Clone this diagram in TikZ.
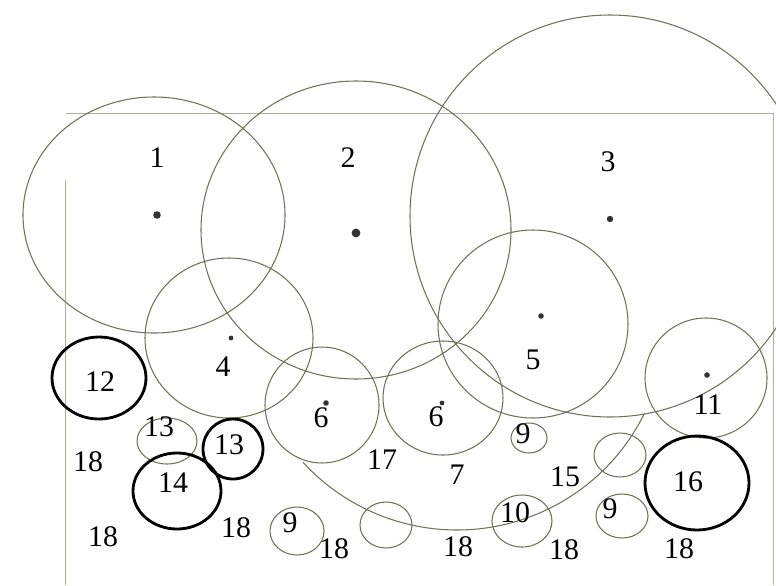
\documentclass[tikz,border=0pt]{standalone}
\usepackage{fontspec}
\setmainfont{Liberation Serif}
\usepackage{tikz}
\usetikzlibrary{positioning}
\definecolor{pencilgray}{RGB}{115,112,88}
\definecolor{framegray}{RGB}{175,172,155}

\begin{document}
\begin{tikzpicture}[
    x=0.2mm, y=0.2mm,
    pencil/.style={draw=pencilgray, line width=0.6pt},
    frame/.style={draw=framegray, line width=0.5pt},
    ink/.style={draw=black, line width=1.6pt},
    lbl/.style={font=\fontsize{17}{20}\selectfont, inner sep=0pt},
    centre/.style={fill=black!80, draw=none}
]
\useasboundingbox (0,0) rectangle (776,-585);
\clip (0,0) rectangle (776,-585);
% frame of the plot
\draw[frame] (66,-113) -- (773,-113);
\draw[frame] (65,-180) -- (65,-585);
\draw[frame] (773,-113) -- (773,-585);
% large circles
\draw[pencil] (154,-215) ellipse [x radius=131, y radius=118];
\draw[pencil] (356,-230) ellipse [x radius=155, y radius=149];
\draw[pencil] (610,-216) ellipse [x radius=200, y radius=201];
\draw[pencil] (229,-338) ellipse [x radius=84, y radius=80];
\draw[pencil] (533,-324) ellipse [x radius=95, y radius=94];
\draw[pencil] (322,-405) ellipse [x radius=57, y radius=58];
\draw[pencil] (443,-398) ellipse [x radius=60, y radius=57];
\draw[pencil] (706,-378) ellipse [x radius=61, y radius=60];
% lower arc
\draw[pencil] (457,-321) ++(222.5:209) arc (222.5:333.7:209);
% small circles
\draw[pencil] (167,-441) ellipse [x radius=30, y radius=23];
\draw[pencil] (297,-531) ellipse [x radius=27, y radius=24];
\draw[pencil] (386,-525) ellipse [x radius=26, y radius=23];
\draw[pencil] (522,-521) ellipse [x radius=30, y radius=26];
\draw[pencil] (529,-438) ellipse [x radius=18, y radius=15];
\draw[pencil] (620,-455) ellipse [x radius=26, y radius=22];
\draw[pencil] (622,-516) ellipse [x radius=26, y radius=22];
% marked circles
\draw[ink] (99,-378) ellipse [x radius=47, y radius=41];
\draw[ink] (233,-449) ellipse [x radius=30, y radius=30];
\draw[ink] (177,-491) ellipse [x radius=44, y radius=38];
\draw[ink] (697,-483) ellipse [x radius=52, y radius=47];
% centre dots
\fill[centre] (157,-215) circle (3.8);
\fill[centre] (356,-233) circle (4.4);
\fill[centre] (610,-219) circle (3.2);
\fill[centre] (231,-338) circle (2.4);
\fill[centre] (541,-316) circle (2.8);
\fill[centre] (326,-403) circle (2.8);
\fill[centre] (442,-403) circle (2.4);
\fill[centre] (707,-375) circle (2.8);
% labels
\node[lbl] (l1) at (157,-158) {1};
\node[lbl] (l2) at (348,-158) {2};
\node[lbl] (l3) at (608,-162) {3};
\node[lbl] (l4) at (223,-367) {4};
\node[lbl] (l5) at (533,-360) {5};
\node[lbl] (l6a) at (321,-418) {6};
\node[lbl] (l6b) at (436,-417) {6};
\node[lbl] (l9a) at (523,-434) {9};
\node[lbl] (l11) at (708,-405) {11};
\node[lbl] (l12) at (100,-382) {12};
\node[lbl] (l13a) at (159,-427) {13};
\node[lbl] (l13b) at (229,-445) {13};
\node[lbl] (l14) at (173,-483) {14};
\node[lbl] (l17) at (382,-460) {17};
\node[lbl] (l7) at (457,-475) {7};
\node[lbl] (l15) at (565,-477) {15};
\node[lbl] (l16) at (688,-482) {16};
\node[lbl] (l10) at (515,-513) {10};
\node[lbl] (l9b) at (610,-509) {9};
\node[lbl] (l9c) at (290,-523) {9};
\node[lbl] (l18a) at (88,-462) {18};
\node[lbl] (l18b) at (103,-537) {18};
\node[lbl] (l18c) at (236,-528) {18};
\node[lbl] (l18d) at (334,-549) {18};
\node[lbl] (l18e) at (458,-547) {18};
\node[lbl] (l18f) at (564,-550) {18};
\node[lbl] (l18g) at (679,-549) {18};
\end{tikzpicture}
\end{document}
